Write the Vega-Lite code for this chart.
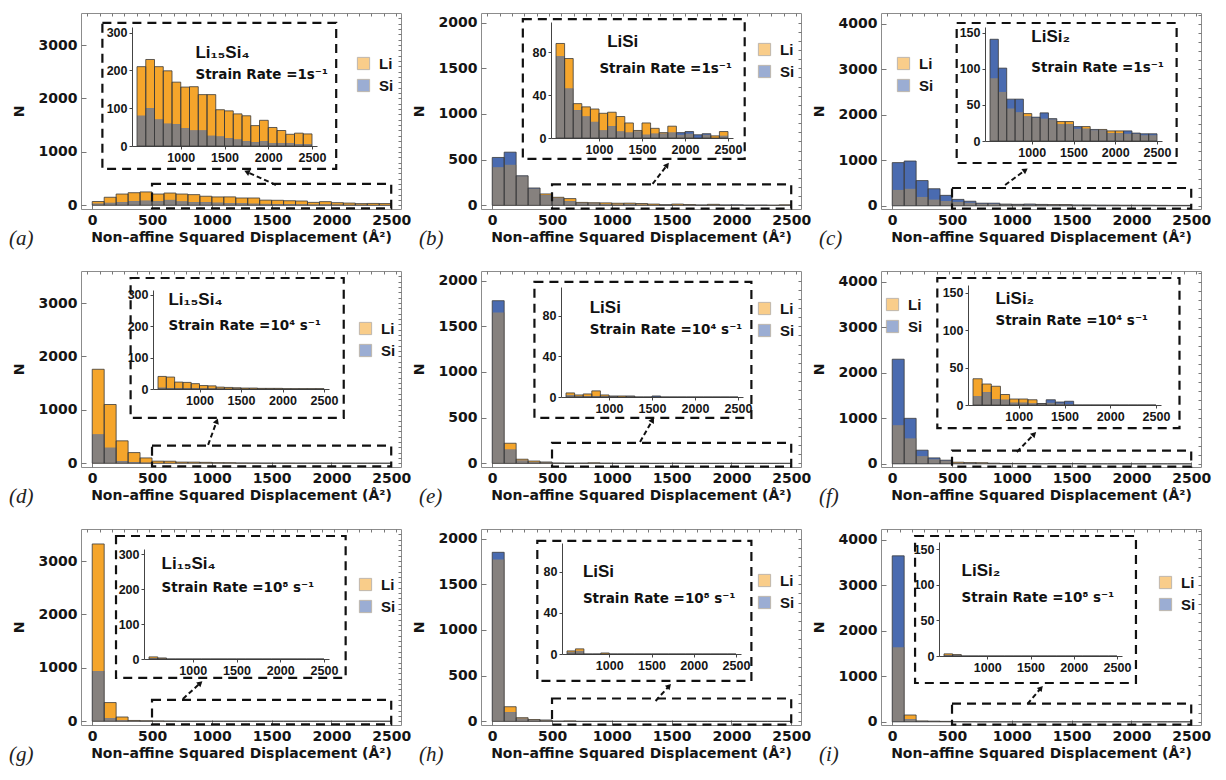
{
  "$schema": "https://vega.github.io/schema/vega-lite/v6.json",
  "background": "white",
  "padding": {"left": 8, "top": 12, "right": 4, "bottom": 4},
  "datasets": {
    "hist": [
      {"p":"a","b0":0,"b1":100,"li":70,"si":30},{"p":"a","b0":100,"b1":200,"li":150,"si":45},{"p":"a","b0":200,"b1":300,"li":210,"si":60},{"p":"a","b0":300,"b1":400,"li":235,"si":75},{"p":"a","b0":400,"b1":500,"li":250,"si":85},
      {"p":"a","b0":500,"b1":600,"li":210,"si":80},{"p":"a","b0":600,"b1":700,"li":229,"si":100},{"p":"a","b0":700,"b1":800,"li":210,"si":70},{"p":"a","b0":800,"b1":900,"li":199,"si":59},{"p":"a","b0":900,"b1":1000,"li":169,"si":58},
      {"p":"a","b0":1000,"b1":1100,"li":156,"si":47},{"p":"a","b0":1100,"b1":1200,"li":157,"si":41},{"p":"a","b0":1200,"b1":1300,"li":136,"si":41},{"p":"a","b0":1300,"b1":1400,"li":136,"si":27},{"p":"a","b0":1400,"b1":1500,"li":96,"si":25},
      {"p":"a","b0":1500,"b1":1600,"li":93,"si":21},{"p":"a","b0":1600,"b1":1700,"li":85,"si":17},{"p":"a","b0":1700,"b1":1800,"li":80,"si":13},{"p":"a","b0":1800,"b1":1900,"li":54,"si":10},{"p":"a","b0":1900,"b1":2000,"li":68,"si":13},
      {"p":"a","b0":2000,"b1":2100,"li":49,"si":8},{"p":"a","b0":2100,"b1":2200,"li":41,"si":7},{"p":"a","b0":2200,"b1":2300,"li":31,"si":7},{"p":"a","b0":2300,"b1":2400,"li":34,"si":5},{"p":"a","b0":2400,"b1":2500,"li":32,"si":5},

      {"p":"b","b0":0,"b1":100,"li":418,"si":524},{"p":"b","b0":100,"b1":200,"li":444,"si":582},{"p":"b","b0":200,"b1":300,"li":320,"si":324},{"p":"b","b0":300,"b1":400,"li":185,"si":190},{"p":"b","b0":400,"b1":500,"li":125,"si":110},
      {"p":"b","b0":500,"b1":600,"li":88,"si":76},{"p":"b","b0":600,"b1":700,"li":74,"si":46},{"p":"b","b0":700,"b1":800,"li":32,"si":26},{"p":"b","b0":800,"b1":900,"li":29,"si":20},{"p":"b","b0":900,"b1":1000,"li":27,"si":15},
      {"p":"b","b0":1000,"b1":1100,"li":23,"si":7},{"p":"b","b0":1100,"b1":1200,"li":24,"si":11},{"p":"b","b0":1200,"b1":1300,"li":20,"si":6},{"p":"b","b0":1300,"b1":1400,"li":14,"si":5},{"p":"b","b0":1400,"b1":1500,"li":7,"si":6},
      {"p":"b","b0":1500,"b1":1600,"li":14,"si":3},{"p":"b","b0":1600,"b1":1700,"li":9,"si":4},{"p":"b","b0":1700,"b1":1800,"li":5,"si":4},{"p":"b","b0":1800,"b1":1900,"li":11,"si":5},{"p":"b","b0":1900,"b1":2000,"li":3,"si":5},
      {"p":"b","b0":2000,"b1":2100,"li":4,"si":6},{"p":"b","b0":2100,"b1":2200,"li":0,"si":3},{"p":"b","b0":2200,"b1":2300,"li":3,"si":4},{"p":"b","b0":2300,"b1":2400,"li":2,"si":0},{"p":"b","b0":2400,"b1":2500,"li":6,"si":2},

      {"p":"c","b0":0,"b1":100,"li":350,"si":950},{"p":"c","b0":100,"b1":200,"li":375,"si":985},{"p":"c","b0":200,"b1":300,"li":195,"si":555},{"p":"c","b0":300,"b1":400,"li":137,"si":375},{"p":"c","b0":400,"b1":500,"li":108,"si":230},
      {"p":"c","b0":500,"b1":600,"li":87,"si":141},{"p":"c","b0":600,"b1":700,"li":68,"si":101},{"p":"c","b0":700,"b1":800,"li":45,"si":58},{"p":"c","b0":800,"b1":900,"li":40,"si":58},{"p":"c","b0":900,"b1":1000,"li":38,"si":34},
      {"p":"c","b0":1000,"b1":1100,"li":32,"si":33},{"p":"c","b0":1100,"b1":1200,"li":31,"si":39},{"p":"c","b0":1200,"b1":1300,"li":30,"si":31},{"p":"c","b0":1300,"b1":1400,"li":27,"si":23},{"p":"c","b0":1400,"b1":1500,"li":27,"si":23},
      {"p":"c","b0":1500,"b1":1600,"li":17,"si":20},{"p":"c","b0":1600,"b1":1700,"li":20,"si":17},{"p":"c","b0":1700,"b1":1800,"li":15,"si":16},{"p":"c","b0":1800,"b1":1900,"li":16,"si":15},{"p":"c","b0":1900,"b1":2000,"li":14,"si":11},
      {"p":"c","b0":2000,"b1":2100,"li":14,"si":11},{"p":"c","b0":2100,"b1":2200,"li":10,"si":14},{"p":"c","b0":2200,"b1":2300,"li":10,"si":11},{"p":"c","b0":2300,"b1":2400,"li":8,"si":10},{"p":"c","b0":2400,"b1":2500,"li":8,"si":10},

      {"p":"d","b0":0,"b1":100,"li":1760,"si":540},{"p":"d","b0":100,"b1":200,"li":1100,"si":290},{"p":"d","b0":200,"b1":300,"li":420,"si":40},{"p":"d","b0":300,"b1":400,"li":200,"si":20},{"p":"d","b0":400,"b1":500,"li":100,"si":10},
      {"p":"d","b0":500,"b1":600,"li":40,"si":4},{"p":"d","b0":600,"b1":700,"li":38,"si":3},{"p":"d","b0":700,"b1":800,"li":22,"si":3},{"p":"d","b0":800,"b1":900,"li":21,"si":2},{"p":"d","b0":900,"b1":1000,"li":17,"si":2},
      {"p":"d","b0":1000,"b1":1100,"li":11,"si":1},{"p":"d","b0":1100,"b1":1200,"li":10,"si":1},{"p":"d","b0":1200,"b1":1300,"li":6,"si":1},{"p":"d","b0":1300,"b1":1400,"li":5,"si":0},{"p":"d","b0":1400,"b1":1500,"li":4,"si":1},
      {"p":"d","b0":1500,"b1":1600,"li":3,"si":0},{"p":"d","b0":1600,"b1":1700,"li":3,"si":0},{"p":"d","b0":1700,"b1":1800,"li":2,"si":0},{"p":"d","b0":1800,"b1":1900,"li":2,"si":0},{"p":"d","b0":1900,"b1":2000,"li":2,"si":0},
      {"p":"d","b0":2000,"b1":2100,"li":1,"si":0},{"p":"d","b0":2100,"b1":2200,"li":1,"si":0},{"p":"d","b0":2200,"b1":2300,"li":1,"si":0},{"p":"d","b0":2300,"b1":2400,"li":1,"si":0},{"p":"d","b0":2400,"b1":2500,"li":1,"si":0},

      {"p":"e","b0":0,"b1":100,"li":1650,"si":1780},{"p":"e","b0":100,"b1":200,"li":220,"si":150},{"p":"e","b0":200,"b1":300,"li":45,"si":30},{"p":"e","b0":300,"b1":400,"li":25,"si":15},{"p":"e","b0":400,"b1":500,"li":15,"si":10},
      {"p":"e","b0":500,"b1":600,"li":4,"si":2},{"p":"e","b0":600,"b1":700,"li":2,"si":1},{"p":"e","b0":700,"b1":800,"li":3,"si":1},{"p":"e","b0":800,"b1":900,"li":6,"si":1},{"p":"e","b0":900,"b1":1000,"li":2,"si":1},
      {"p":"e","b0":1000,"b1":1100,"li":1,"si":1},{"p":"e","b0":1100,"b1":1200,"li":1,"si":0},{"p":"e","b0":1200,"b1":1300,"li":1,"si":1},{"p":"e","b0":1300,"b1":1400,"li":0,"si":0},{"p":"e","b0":1400,"b1":1500,"li":0,"si":0},
      {"p":"e","b0":1500,"b1":1600,"li":0,"si":1},{"p":"e","b0":1600,"b1":1700,"li":0,"si":0},{"p":"e","b0":1700,"b1":1800,"li":0,"si":0},{"p":"e","b0":1800,"b1":1900,"li":0,"si":0},{"p":"e","b0":1900,"b1":2000,"li":0,"si":0},
      {"p":"e","b0":2000,"b1":2100,"li":0,"si":0},{"p":"e","b0":2100,"b1":2200,"li":0,"si":0},{"p":"e","b0":2200,"b1":2300,"li":0,"si":0},{"p":"e","b0":2300,"b1":2400,"li":0,"si":0},{"p":"e","b0":2400,"b1":2500,"li":0,"si":0},

      {"p":"f","b0":0,"b1":100,"li":850,"si":2300},{"p":"f","b0":100,"b1":200,"li":560,"si":1000},{"p":"f","b0":200,"b1":300,"li":170,"si":300},{"p":"f","b0":300,"b1":400,"li":100,"si":130},{"p":"f","b0":400,"b1":500,"li":70,"si":80},
      {"p":"f","b0":500,"b1":600,"li":35,"si":12},{"p":"f","b0":600,"b1":700,"li":28,"si":17},{"p":"f","b0":700,"b1":800,"li":25,"si":8},{"p":"f","b0":800,"b1":900,"li":14,"si":7},{"p":"f","b0":900,"b1":1000,"li":8,"si":3},
      {"p":"f","b0":1000,"b1":1100,"li":8,"si":3},{"p":"f","b0":1100,"b1":1200,"li":7,"si":2},{"p":"f","b0":1200,"b1":1300,"li":2,"si":2},{"p":"f","b0":1300,"b1":1400,"li":3,"si":7},{"p":"f","b0":1400,"b1":1500,"li":2,"si":4},
      {"p":"f","b0":1500,"b1":1600,"li":1,"si":5},{"p":"f","b0":1600,"b1":1700,"li":0,"si":0},{"p":"f","b0":1700,"b1":1800,"li":0,"si":0},{"p":"f","b0":1800,"b1":1900,"li":0,"si":0},{"p":"f","b0":1900,"b1":2000,"li":0,"si":0},
      {"p":"f","b0":2000,"b1":2100,"li":0,"si":0},{"p":"f","b0":2100,"b1":2200,"li":0,"si":0},{"p":"f","b0":2200,"b1":2300,"li":0,"si":0},{"p":"f","b0":2300,"b1":2400,"li":0,"si":0},{"p":"f","b0":2400,"b1":2500,"li":0,"si":0},

      {"p":"g","b0":0,"b1":100,"li":3320,"si":940},{"p":"g","b0":100,"b1":200,"li":350,"si":60},{"p":"g","b0":200,"b1":300,"li":80,"si":15},{"p":"g","b0":300,"b1":400,"li":15,"si":5},{"p":"g","b0":400,"b1":500,"li":10,"si":3},
      {"p":"g","b0":500,"b1":600,"li":6,"si":2},{"p":"g","b0":600,"b1":700,"li":3,"si":1},{"p":"g","b0":700,"b1":800,"li":0,"si":0},{"p":"g","b0":800,"b1":900,"li":0,"si":0},{"p":"g","b0":900,"b1":1000,"li":0,"si":0},
      {"p":"g","b0":1000,"b1":1100,"li":0,"si":0},{"p":"g","b0":1100,"b1":1200,"li":0,"si":0},{"p":"g","b0":1200,"b1":1300,"li":0,"si":0},{"p":"g","b0":1300,"b1":1400,"li":0,"si":0},{"p":"g","b0":1400,"b1":1500,"li":0,"si":0},
      {"p":"g","b0":1500,"b1":1600,"li":0,"si":0},{"p":"g","b0":1600,"b1":1700,"li":0,"si":0},{"p":"g","b0":1700,"b1":1800,"li":0,"si":0},{"p":"g","b0":1800,"b1":1900,"li":0,"si":0},{"p":"g","b0":1900,"b1":2000,"li":0,"si":0},
      {"p":"g","b0":2000,"b1":2100,"li":0,"si":0},{"p":"g","b0":2100,"b1":2200,"li":0,"si":0},{"p":"g","b0":2200,"b1":2300,"li":0,"si":0},{"p":"g","b0":2300,"b1":2400,"li":0,"si":0},{"p":"g","b0":2400,"b1":2500,"li":0,"si":0},

      {"p":"h","b0":0,"b1":100,"li":1770,"si":1850},{"p":"h","b0":100,"b1":200,"li":160,"si":100},{"p":"h","b0":200,"b1":300,"li":40,"si":30},{"p":"h","b0":300,"b1":400,"li":20,"si":15},{"p":"h","b0":400,"b1":500,"li":15,"si":10},
      {"p":"h","b0":500,"b1":600,"li":3,"si":2},{"p":"h","b0":600,"b1":700,"li":5,"si":3},{"p":"h","b0":700,"b1":800,"li":0,"si":0},{"p":"h","b0":800,"b1":900,"li":0,"si":0},{"p":"h","b0":900,"b1":1000,"li":1,"si":0},
      {"p":"h","b0":1000,"b1":1100,"li":0,"si":0},{"p":"h","b0":1100,"b1":1200,"li":0,"si":0},{"p":"h","b0":1200,"b1":1300,"li":0,"si":0},{"p":"h","b0":1300,"b1":1400,"li":0,"si":0},{"p":"h","b0":1400,"b1":1500,"li":0,"si":0},
      {"p":"h","b0":1500,"b1":1600,"li":0,"si":0},{"p":"h","b0":1600,"b1":1700,"li":0,"si":0},{"p":"h","b0":1700,"b1":1800,"li":0,"si":0},{"p":"h","b0":1800,"b1":1900,"li":0,"si":0},{"p":"h","b0":1900,"b1":2000,"li":0,"si":0},
      {"p":"h","b0":2000,"b1":2100,"li":0,"si":0},{"p":"h","b0":2100,"b1":2200,"li":0,"si":0},{"p":"h","b0":2200,"b1":2300,"li":0,"si":0},{"p":"h","b0":2300,"b1":2400,"li":0,"si":0},{"p":"h","b0":2400,"b1":2500,"li":0,"si":0},

      {"p":"i","b0":0,"b1":100,"li":1640,"si":3650},{"p":"i","b0":100,"b1":200,"li":150,"si":60},{"p":"i","b0":200,"b1":300,"li":20,"si":15},{"p":"i","b0":300,"b1":400,"li":15,"si":10},{"p":"i","b0":400,"b1":500,"li":10,"si":5},
      {"p":"i","b0":500,"b1":600,"li":3,"si":1},{"p":"i","b0":600,"b1":700,"li":2,"si":1},{"p":"i","b0":700,"b1":800,"li":0,"si":0},{"p":"i","b0":800,"b1":900,"li":0,"si":0},{"p":"i","b0":900,"b1":1000,"li":0,"si":0},
      {"p":"i","b0":1000,"b1":1100,"li":0,"si":0},{"p":"i","b0":1100,"b1":1200,"li":0,"si":0},{"p":"i","b0":1200,"b1":1300,"li":0,"si":0},{"p":"i","b0":1300,"b1":1400,"li":0,"si":0},{"p":"i","b0":1400,"b1":1500,"li":0,"si":0},
      {"p":"i","b0":1500,"b1":1600,"li":0,"si":0},{"p":"i","b0":1600,"b1":1700,"li":0,"si":0},{"p":"i","b0":1700,"b1":1800,"li":0,"si":0},{"p":"i","b0":1800,"b1":1900,"li":0,"si":0},{"p":"i","b0":1900,"b1":2000,"li":0,"si":0},
      {"p":"i","b0":2000,"b1":2100,"li":0,"si":0},{"p":"i","b0":2100,"b1":2200,"li":0,"si":0},{"p":"i","b0":2200,"b1":2300,"li":0,"si":0},{"p":"i","b0":2300,"b1":2400,"li":0,"si":0},{"p":"i","b0":2400,"b1":2500,"li":0,"si":0}
    ]
  },
  "columns": 3,
  "spacing": {"row": 62, "column": 80},
  "bounds": "flush",
  "resolve": {"scale": {"color": "independent"}, "legend": {"color": "independent"}},
  "concat": [
    {
      "title": {"text": "(a)", "dx": -72},
      "width": 320, "height": 196,
      "data": {"name": "hist"},
      "transform": [{"filter": "datum.p == 'a'"}],
      "resolve": {"scale": {"x": "independent", "y": "independent"}},
      "layer": [
        {"layer": [
          {"mark": {"type": "bar"}, "encoding": {
            "x": {"field": "b0", "type": "quantitative", "scale": {"domain": [-52, 2540], "nice": false, "zero": false}, "axis": {"values": [0, 500, 1000, 1500, 2000, 2500], "title": "Non–affine Squared Displacement (Å²)"}},
            "x2": {"field": "b1"},
            "y": {"field": "li", "type": "quantitative", "stack": null, "scale": {"domain": [-70, 3600], "nice": false, "zero": false}, "axis": {"values": [0, 500, 1000, 1500, 2000, 2500, 3000, 3500], "title": "N"}},
            "y2": {"datum": 0},
            "color": {"datum": "Li", "scale": {"domain": ["Li", "Si"], "range": ["#f5a52b", "#4a6bb0"]}, "legend": {"legendX": 275, "legendY": 43}}}},
          {"mark": {"type": "bar"}, "encoding": {"x": {"field": "b0", "type": "quantitative"}, "x2": {"field": "b1"}, "y": {"field": "si", "type": "quantitative", "stack": null}, "y2": {"datum": 0}, "color": {"datum": "Si"}}},
          {"transform": [{"fold": ["li", "si"]}], "mark": {"type": "bar", "color": "#86817e"}, "encoding": {"x": {"field": "b0", "type": "quantitative"}, "x2": {"field": "b1"}, "y": {"aggregate": "min", "field": "value", "type": "quantitative"}}},
          {"transform": [{"fold": ["li", "si"]}], "mark": {"type": "bar", "fillOpacity": 0, "stroke": "#3a3a3a", "strokeWidth": 0.8}, "encoding": {"x": {"field": "b0", "type": "quantitative"}, "x2": {"field": "b1"}, "y": {"aggregate": "max", "field": "value", "type": "quantitative"}}},
          {"data": {"values": [{}]}, "mark": {"type": "rect", "fillOpacity": 0, "stroke": "#111", "strokeWidth": 2.2, "strokeDash": [9, 6]}, "encoding": {"x": {"datum": 500}, "x2": {"datum": 2500}, "y": {"datum": -60}, "y2": {"datum": 400}}},
          {"data": {"values": [{}]}, "mark": {"type": "rect", "fillOpacity": 0, "stroke": "#111", "strokeWidth": 2.2, "strokeDash": [9, 6]}, "encoding": {"x": {"datum": 85}, "x2": {"datum": 2040}, "y": {"datum": 680}, "y2": {"datum": 3415}}},
          {"data": {"values": [{}]}, "mark": {"type": "rule", "color": "#111", "strokeWidth": 2, "strokeDash": [5, 3]}, "encoding": {"x": {"datum": 1536}, "y": {"datum": 380}, "x2": {"datum": 1293}, "y2": {"datum": 624}}},
          {"data": {"values": [{}]}, "mark": {"type": "point", "shape": "triangle-up", "filled": true, "color": "#111", "opacity": 1, "size": 40, "angle": 293}, "encoding": {"x": {"datum": 1293}, "y": {"datum": 624}}},
          {"data": {"values": [{}]}, "mark": {"type": "text", "align": "left", "baseline": "middle", "fontSize": 17, "fontWeight": "bold"}, "encoding": {"x": {"datum": 863}, "y": {"datum": 2851}, "text": {"value": "Li₁₅Si₄"}}},
          {"data": {"values": [{}]}, "mark": {"type": "text", "align": "left", "baseline": "middle", "font": "DejaVu Sans", "fontSize": 13.5, "fontWeight": "bold"}, "encoding": {"x": {"datum": 863}, "y": {"datum": 2439}, "text": {"value": "Strain Rate =1s⁻¹"}}}
        ]},
        {"transform": [{"filter": "datum.b0 >= 500"}], "layer": [
          {"mark": {"type": "bar", "color": "#f5a52b"}, "encoding": {
            "x": {"field": "b0", "type": "quantitative", "scale": {"domain": [500, 2500], "range": [51, 236], "nice": false, "zero": false}, "axis": {"orient": "bottom", "offset": -63, "values": [1000, 1500, 2000, 2500], "title": null, "domain": true, "domainColor": "#444", "tickSize": 3, "tickColor": "#444", "labelPadding": 2, "labelFont": "Liberation Sans", "labelFontSize": 12.5}},
            "x2": {"field": "b1"},
            "y": {"field": "li", "type": "quantitative", "scale": {"domain": [0, 315], "range": [133, 14], "nice": false, "zero": false}, "axis": {"orient": "left", "offset": -51, "values": [0, 50, 100, 150, 200, 250, 300], "title": null, "domain": true, "domainColor": "#444", "tickSize": 3, "tickColor": "#444", "labelPadding": 2, "labelFont": "Liberation Sans", "labelFontSize": 12.5}},
            "y2": {"datum": 0}}},
          {"mark": {"type": "bar", "color": "#4a6bb0"}, "encoding": {"x": {"field": "b0", "type": "quantitative"}, "x2": {"field": "b1"}, "y": {"field": "si", "type": "quantitative"}, "y2": {"datum": 0}}},
          {"transform": [{"fold": ["li", "si"]}], "mark": {"type": "bar", "color": "#86817e"}, "encoding": {"x": {"field": "b0", "type": "quantitative"}, "x2": {"field": "b1"}, "y": {"aggregate": "min", "field": "value", "type": "quantitative"}}},
          {"transform": [{"fold": ["li", "si"]}], "mark": {"type": "bar", "fillOpacity": 0, "stroke": "#3a3a3a", "strokeWidth": 0.8}, "encoding": {"x": {"field": "b0", "type": "quantitative"}, "x2": {"field": "b1"}, "y": {"aggregate": "max", "field": "value", "type": "quantitative"}}}
        ]},
        {"data": {"values": [{}]}, "mark": {"type": "point", "opacity": 0}, "encoding": {
          "x": {"datum": 0, "type": "quantitative", "scale": {"domain": [-52, 2540], "nice": false, "zero": false}, "axis": {"orient": "top", "values": [0,100,200,300,400,500,600,700,800,900,1000,1100,1200,1300,1400,1500,1600,1700,1800,1900,2000,2100,2200,2300,2400,2500], "labels": false, "title": null, "tickSize": -3}},
          "y": {"datum": 0, "type": "quantitative", "scale": {"domain": [-70, 3600], "nice": false, "zero": false}, "axis": {"orient": "right", "values": [0,100,200,300,400,500,600,700,800,900,1000,1100,1200,1300,1400,1500,1600,1700,1800,1900,2000,2100,2200,2300,2400,2500,2600,2700,2800,2900,3000,3100,3200,3300,3400,3500], "labels": false, "title": null, "tickSize": -3}}}}
      ]
    },
    {
      "title": {"text": "(b)", "dx": -62},
      "width": 320, "height": 196,
      "data": {"name": "hist"},
      "transform": [{"filter": "datum.p == 'b'"}],
      "resolve": {"scale": {"x": "independent", "y": "independent"}},
      "layer": [
        {"layer": [
          {"mark": {"type": "bar"}, "encoding": {
            "x": {"field": "b0", "type": "quantitative", "scale": {"domain": [-52, 2540], "nice": false, "zero": false}, "axis": {"values": [0, 500, 1000, 1500, 2000, 2500], "title": "Non–affine Squared Displacement (Å²)"}},
            "x2": {"field": "b1"},
            "y": {"field": "li", "type": "quantitative", "stack": null, "scale": {"domain": [-40, 2105], "nice": false, "zero": false}, "axis": {"values": [0, 500, 1000, 1500, 2000], "title": "N"}},
            "y2": {"datum": 0},
            "color": {"datum": "Li", "scale": {"domain": ["Li", "Si"], "range": ["#f5a52b", "#4a6bb0"]}, "legend": {"legendX": 276, "legendY": 29}}}},
          {"mark": {"type": "bar"}, "encoding": {"x": {"field": "b0", "type": "quantitative"}, "x2": {"field": "b1"}, "y": {"field": "si", "type": "quantitative", "stack": null}, "y2": {"datum": 0}, "color": {"datum": "Si"}}},
          {"transform": [{"fold": ["li", "si"]}], "mark": {"type": "bar", "color": "#86817e"}, "encoding": {"x": {"field": "b0", "type": "quantitative"}, "x2": {"field": "b1"}, "y": {"aggregate": "min", "field": "value", "type": "quantitative"}}},
          {"transform": [{"fold": ["li", "si"]}], "mark": {"type": "bar", "fillOpacity": 0, "stroke": "#3a3a3a", "strokeWidth": 0.8}, "encoding": {"x": {"field": "b0", "type": "quantitative"}, "x2": {"field": "b1"}, "y": {"aggregate": "max", "field": "value", "type": "quantitative"}}},
          {"data": {"values": [{}]}, "mark": {"type": "rect", "fillOpacity": 0, "stroke": "#111", "strokeWidth": 2.2, "strokeDash": [9, 6]}, "encoding": {"x": {"datum": 500}, "x2": {"datum": 2500}, "y": {"datum": -35}, "y2": {"datum": 230}}},
          {"data": {"values": [{}]}, "mark": {"type": "rect", "fillOpacity": 0, "stroke": "#111", "strokeWidth": 2.2, "strokeDash": [9, 6]}, "encoding": {"x": {"datum": 256}, "x2": {"datum": 2111}, "y": {"datum": 508}, "y2": {"datum": 2039}}},
          {"data": {"values": [{}]}, "mark": {"type": "rule", "color": "#111", "strokeWidth": 2, "strokeDash": [5, 3]}, "encoding": {"x": {"datum": 1341}, "y": {"datum": 234}, "x2": {"datum": 1463}, "y2": {"datum": 442}}},
          {"data": {"values": [{}]}, "mark": {"type": "point", "shape": "triangle-up", "filled": true, "color": "#111", "opacity": 1, "size": 40, "angle": 38}, "encoding": {"x": {"datum": 1463}, "y": {"datum": 442}}},
          {"data": {"values": [{}]}, "mark": {"type": "text", "align": "left", "baseline": "middle", "fontSize": 17, "fontWeight": "bold"}, "encoding": {"x": {"datum": 961}, "y": {"datum": 1788}, "text": {"value": "LiSi"}}},
          {"data": {"values": [{}]}, "mark": {"type": "text", "align": "left", "baseline": "middle", "font": "DejaVu Sans", "fontSize": 13.5, "fontWeight": "bold"}, "encoding": {"x": {"datum": 896}, "y": {"datum": 1492}, "text": {"value": "Strain Rate =1s⁻¹"}}}
        ]},
        {"transform": [{"filter": "datum.b0 >= 500"}], "layer": [
          {"mark": {"type": "bar", "color": "#f5a52b"}, "encoding": {
            "x": {"field": "b0", "type": "quantitative", "scale": {"domain": [500, 2500], "range": [70, 252], "nice": false, "zero": false}, "axis": {"orient": "bottom", "offset": -71, "values": [1000, 1500, 2000, 2500], "title": null, "domain": true, "domainColor": "#444", "tickSize": 3, "tickColor": "#444", "labelPadding": 2, "labelFont": "Liberation Sans", "labelFontSize": 12.5}},
            "x2": {"field": "b1"},
            "y": {"field": "li", "type": "quantitative", "scale": {"domain": [0, 108], "range": [125, 9], "nice": false, "zero": false}, "axis": {"orient": "left", "offset": -70, "values": [0, 20, 40, 60, 80, 100], "title": null, "domain": true, "domainColor": "#444", "tickSize": 3, "tickColor": "#444", "labelPadding": 2, "labelFont": "Liberation Sans", "labelFontSize": 12.5}},
            "y2": {"datum": 0}}},
          {"mark": {"type": "bar", "color": "#4a6bb0"}, "encoding": {"x": {"field": "b0", "type": "quantitative"}, "x2": {"field": "b1"}, "y": {"field": "si", "type": "quantitative"}, "y2": {"datum": 0}}},
          {"transform": [{"fold": ["li", "si"]}], "mark": {"type": "bar", "color": "#86817e"}, "encoding": {"x": {"field": "b0", "type": "quantitative"}, "x2": {"field": "b1"}, "y": {"aggregate": "min", "field": "value", "type": "quantitative"}}},
          {"transform": [{"fold": ["li", "si"]}], "mark": {"type": "bar", "fillOpacity": 0, "stroke": "#3a3a3a", "strokeWidth": 0.8}, "encoding": {"x": {"field": "b0", "type": "quantitative"}, "x2": {"field": "b1"}, "y": {"aggregate": "max", "field": "value", "type": "quantitative"}}}
        ]},
        {"data": {"values": [{}]}, "mark": {"type": "point", "opacity": 0}, "encoding": {
          "x": {"datum": 0, "type": "quantitative", "scale": {"domain": [-52, 2540], "nice": false, "zero": false}, "axis": {"orient": "top", "values": [0,100,200,300,400,500,600,700,800,900,1000,1100,1200,1300,1400,1500,1600,1700,1800,1900,2000,2100,2200,2300,2400,2500], "labels": false, "title": null, "tickSize": -3}},
          "y": {"datum": 0, "type": "quantitative", "scale": {"domain": [-40, 2105], "nice": false, "zero": false}, "axis": {"orient": "right", "values": [0,100,200,300,400,500,600,700,800,900,1000,1100,1200,1300,1400,1500,1600,1700,1800,1900,2000], "labels": false, "title": null, "tickSize": -3}}}}
      ]
    },
    {
      "title": {"text": "(c)", "dx": -62},
      "width": 320, "height": 196,
      "data": {"name": "hist"},
      "transform": [{"filter": "datum.p == 'c'"}],
      "resolve": {"scale": {"x": "independent", "y": "independent"}},
      "layer": [
        {"layer": [
          {"mark": {"type": "bar"}, "encoding": {
            "x": {"field": "b0", "type": "quantitative", "scale": {"domain": [-52, 2540], "nice": false, "zero": false}, "axis": {"values": [0, 500, 1000, 1500, 2000, 2500], "title": "Non–affine Squared Displacement (Å²)"}},
            "x2": {"field": "b1"},
            "y": {"field": "li", "type": "quantitative", "stack": null, "scale": {"domain": [-70, 4240], "nice": false, "zero": false}, "axis": {"values": [0, 1000, 2000, 3000, 4000], "title": "N"}},
            "y2": {"datum": 0},
            "color": {"datum": "Li", "scale": {"domain": ["Li", "Si"], "range": ["#f5a52b", "#4a6bb0"]}, "legend": {"legendX": 15, "legendY": 43}}}},
          {"mark": {"type": "bar"}, "encoding": {"x": {"field": "b0", "type": "quantitative"}, "x2": {"field": "b1"}, "y": {"field": "si", "type": "quantitative", "stack": null}, "y2": {"datum": 0}, "color": {"datum": "Si"}}},
          {"transform": [{"fold": ["li", "si"]}], "mark": {"type": "bar", "color": "#86817e"}, "encoding": {"x": {"field": "b0", "type": "quantitative"}, "x2": {"field": "b1"}, "y": {"aggregate": "min", "field": "value", "type": "quantitative"}}},
          {"transform": [{"fold": ["li", "si"]}], "mark": {"type": "bar", "fillOpacity": 0, "stroke": "#3a3a3a", "strokeWidth": 0.8}, "encoding": {"x": {"field": "b0", "type": "quantitative"}, "x2": {"field": "b1"}, "y": {"aggregate": "max", "field": "value", "type": "quantitative"}}},
          {"data": {"values": [{}]}, "mark": {"type": "rect", "fillOpacity": 0, "stroke": "#111", "strokeWidth": 2.2, "strokeDash": [9, 6]}, "encoding": {"x": {"datum": 500}, "x2": {"datum": 2500}, "y": {"datum": -60}, "y2": {"datum": 392}}},
          {"data": {"values": [{}]}, "mark": {"type": "rect", "fillOpacity": 0, "stroke": "#111", "strokeWidth": 2.2, "strokeDash": [9, 6]}, "encoding": {"x": {"datum": 539}, "x2": {"datum": 2378}, "y": {"datum": 941}, "y2": {"datum": 4020}}},
          {"data": {"values": [{}]}, "mark": {"type": "rule", "color": "#111", "strokeWidth": 2, "strokeDash": [5, 3]}, "encoding": {"x": {"datum": 944}, "y": {"datum": 458}, "x2": {"datum": 1114}, "y2": {"datum": 787}}},
          {"data": {"values": [{}]}, "mark": {"type": "point", "shape": "triangle-up", "filled": true, "color": "#111", "opacity": 1, "size": 40, "angle": 54}, "encoding": {"x": {"datum": 1114}, "y": {"datum": 787}}},
          {"data": {"values": [{}]}, "mark": {"type": "text", "align": "left", "baseline": "middle", "fontSize": 17, "fontWeight": "bold"}, "encoding": {"x": {"datum": 1163}, "y": {"datum": 3712}, "text": {"value": "LiSi₂"}}},
          {"data": {"values": [{}]}, "mark": {"type": "text", "align": "left", "baseline": "middle", "font": "DejaVu Sans", "fontSize": 13.5, "fontWeight": "bold"}, "encoding": {"x": {"datum": 1163}, "y": {"datum": 3031}, "text": {"value": "Strain Rate =1s⁻¹"}}}
        ]},
        {"transform": [{"filter": "datum.b0 >= 500"}], "layer": [
          {"mark": {"type": "bar", "color": "#f5a52b"}, "encoding": {
            "x": {"field": "b0", "type": "quantitative", "scale": {"domain": [500, 2500], "range": [104, 281], "nice": false, "zero": false}, "axis": {"orient": "bottom", "offset": -68, "values": [1000, 1500, 2000, 2500], "title": null, "domain": true, "domainColor": "#444", "tickSize": 3, "tickColor": "#444", "labelPadding": 2, "labelFont": "Liberation Sans", "labelFontSize": 12.5}},
            "x2": {"field": "b1"},
            "y": {"field": "li", "type": "quantitative", "scale": {"domain": [0, 158], "range": [128, 14], "nice": false, "zero": false}, "axis": {"orient": "left", "offset": -104, "values": [0, 50, 100, 150], "title": null, "domain": true, "domainColor": "#444", "tickSize": 3, "tickColor": "#444", "labelPadding": 2, "labelFont": "Liberation Sans", "labelFontSize": 12.5}},
            "y2": {"datum": 0}}},
          {"mark": {"type": "bar", "color": "#4a6bb0"}, "encoding": {"x": {"field": "b0", "type": "quantitative"}, "x2": {"field": "b1"}, "y": {"field": "si", "type": "quantitative"}, "y2": {"datum": 0}}},
          {"transform": [{"fold": ["li", "si"]}], "mark": {"type": "bar", "color": "#86817e"}, "encoding": {"x": {"field": "b0", "type": "quantitative"}, "x2": {"field": "b1"}, "y": {"aggregate": "min", "field": "value", "type": "quantitative"}}},
          {"transform": [{"fold": ["li", "si"]}], "mark": {"type": "bar", "fillOpacity": 0, "stroke": "#3a3a3a", "strokeWidth": 0.8}, "encoding": {"x": {"field": "b0", "type": "quantitative"}, "x2": {"field": "b1"}, "y": {"aggregate": "max", "field": "value", "type": "quantitative"}}}
        ]},
        {"data": {"values": [{}]}, "mark": {"type": "point", "opacity": 0}, "encoding": {
          "x": {"datum": 0, "type": "quantitative", "scale": {"domain": [-52, 2540], "nice": false, "zero": false}, "axis": {"orient": "top", "values": [0,100,200,300,400,500,600,700,800,900,1000,1100,1200,1300,1400,1500,1600,1700,1800,1900,2000,2100,2200,2300,2400,2500], "labels": false, "title": null, "tickSize": -3}},
          "y": {"datum": 0, "type": "quantitative", "scale": {"domain": [-70, 4240], "nice": false, "zero": false}, "axis": {"orient": "right", "values": [0,200,400,600,800,1000,1200,1400,1600,1800,2000,2200,2400,2600,2800,3000,3200,3400,3600,3800,4000,4200], "labels": false, "title": null, "tickSize": -3}}}}
      ]
    },
    {
      "title": {"text": "(d)", "dx": -72},
      "width": 320, "height": 196,
      "data": {"name": "hist"},
      "transform": [{"filter": "datum.p == 'd'"}],
      "resolve": {"scale": {"x": "independent", "y": "independent"}},
      "layer": [
        {"layer": [
          {"mark": {"type": "bar"}, "encoding": {
            "x": {"field": "b0", "type": "quantitative", "scale": {"domain": [-52, 2540], "nice": false, "zero": false}, "axis": {"values": [0, 500, 1000, 1500, 2000, 2500], "title": "Non–affine Squared Displacement (Å²)"}},
            "x2": {"field": "b1"},
            "y": {"field": "li", "type": "quantitative", "stack": null, "scale": {"domain": [-70, 3600], "nice": false, "zero": false}, "axis": {"values": [0, 500, 1000, 1500, 2000, 2500, 3000, 3500], "title": "N"}},
            "y2": {"datum": 0},
            "color": {"datum": "Li", "scale": {"domain": ["Li", "Si"], "range": ["#f5a52b", "#4a6bb0"]}, "legend": {"legendX": 277, "legendY": 50}}}},
          {"mark": {"type": "bar"}, "encoding": {"x": {"field": "b0", "type": "quantitative"}, "x2": {"field": "b1"}, "y": {"field": "si", "type": "quantitative", "stack": null}, "y2": {"datum": 0}, "color": {"datum": "Si"}}},
          {"transform": [{"fold": ["li", "si"]}], "mark": {"type": "bar", "color": "#86817e"}, "encoding": {"x": {"field": "b0", "type": "quantitative"}, "x2": {"field": "b1"}, "y": {"aggregate": "min", "field": "value", "type": "quantitative"}}},
          {"transform": [{"fold": ["li", "si"]}], "mark": {"type": "bar", "fillOpacity": 0, "stroke": "#3a3a3a", "strokeWidth": 0.8}, "encoding": {"x": {"field": "b0", "type": "quantitative"}, "x2": {"field": "b1"}, "y": {"aggregate": "max", "field": "value", "type": "quantitative"}}},
          {"data": {"values": [{}]}, "mark": {"type": "rect", "fillOpacity": 0, "stroke": "#111", "strokeWidth": 2.2, "strokeDash": [9, 6]}, "encoding": {"x": {"datum": 500}, "x2": {"datum": 2500}, "y": {"datum": -60}, "y2": {"datum": 330}}},
          {"data": {"values": [{}]}, "mark": {"type": "rect", "fillOpacity": 0, "stroke": "#111", "strokeWidth": 2.2, "strokeDash": [9, 6]}, "encoding": {"x": {"datum": 321}, "x2": {"datum": 2103}, "y": {"datum": 848}, "y2": {"datum": 3469}}},
          {"data": {"values": [{}]}, "mark": {"type": "rule", "color": "#111", "strokeWidth": 2, "strokeDash": [5, 3]}, "encoding": {"x": {"datum": 969}, "y": {"datum": 343}, "x2": {"datum": 1042}, "y2": {"datum": 792}}},
          {"data": {"values": [{}]}, "mark": {"type": "point", "shape": "triangle-up", "filled": true, "color": "#111", "opacity": 1, "size": 40, "angle": 21}, "encoding": {"x": {"datum": 1042}, "y": {"datum": 792}}},
          {"data": {"values": [{}]}, "mark": {"type": "text", "align": "left", "baseline": "middle", "fontSize": 17, "fontWeight": "bold"}, "encoding": {"x": {"datum": 637}, "y": {"datum": 3057}, "text": {"value": "Li₁₅Si₄"}}},
          {"data": {"values": [{}]}, "mark": {"type": "text", "align": "left", "baseline": "middle", "font": "DejaVu Sans", "fontSize": 13.5, "fontWeight": "bold"}, "encoding": {"x": {"datum": 637}, "y": {"datum": 2570}, "text": {"value": "Strain Rate =10⁴ s⁻¹"}}}
        ]},
        {"transform": [{"filter": "datum.b0 >= 500"}], "layer": [
          {"mark": {"type": "bar", "color": "#f5a52b"}, "encoding": {
            "x": {"field": "b0", "type": "quantitative", "scale": {"domain": [500, 2500], "range": [72, 248], "nice": false, "zero": false}, "axis": {"orient": "bottom", "offset": -78, "values": [1000, 1500, 2000, 2500], "title": null, "domain": true, "domainColor": "#444", "tickSize": 3, "tickColor": "#444", "labelPadding": 2, "labelFont": "Liberation Sans", "labelFontSize": 12.5}},
            "x2": {"field": "b1"},
            "y": {"field": "li", "type": "quantitative", "scale": {"domain": [0, 315], "range": [118, 19], "nice": false, "zero": false}, "axis": {"orient": "left", "offset": -72, "values": [0, 50, 100, 150, 200, 250, 300], "title": null, "domain": true, "domainColor": "#444", "tickSize": 3, "tickColor": "#444", "labelPadding": 2, "labelFont": "Liberation Sans", "labelFontSize": 12.5}},
            "y2": {"datum": 0}}},
          {"mark": {"type": "bar", "color": "#4a6bb0"}, "encoding": {"x": {"field": "b0", "type": "quantitative"}, "x2": {"field": "b1"}, "y": {"field": "si", "type": "quantitative"}, "y2": {"datum": 0}}},
          {"transform": [{"fold": ["li", "si"]}], "mark": {"type": "bar", "color": "#86817e"}, "encoding": {"x": {"field": "b0", "type": "quantitative"}, "x2": {"field": "b1"}, "y": {"aggregate": "min", "field": "value", "type": "quantitative"}}},
          {"transform": [{"fold": ["li", "si"]}], "mark": {"type": "bar", "fillOpacity": 0, "stroke": "#3a3a3a", "strokeWidth": 0.8}, "encoding": {"x": {"field": "b0", "type": "quantitative"}, "x2": {"field": "b1"}, "y": {"aggregate": "max", "field": "value", "type": "quantitative"}}}
        ]},
        {"data": {"values": [{}]}, "mark": {"type": "point", "opacity": 0}, "encoding": {
          "x": {"datum": 0, "type": "quantitative", "scale": {"domain": [-52, 2540], "nice": false, "zero": false}, "axis": {"orient": "top", "values": [0,100,200,300,400,500,600,700,800,900,1000,1100,1200,1300,1400,1500,1600,1700,1800,1900,2000,2100,2200,2300,2400,2500], "labels": false, "title": null, "tickSize": -3}},
          "y": {"datum": 0, "type": "quantitative", "scale": {"domain": [-70, 3600], "nice": false, "zero": false}, "axis": {"orient": "right", "values": [0,100,200,300,400,500,600,700,800,900,1000,1100,1200,1300,1400,1500,1600,1700,1800,1900,2000,2100,2200,2300,2400,2500,2600,2700,2800,2900,3000,3100,3200,3300,3400,3500], "labels": false, "title": null, "tickSize": -3}}}}
      ]
    },
    {
      "title": {"text": "(e)", "dx": -62},
      "width": 320, "height": 196,
      "data": {"name": "hist"},
      "transform": [{"filter": "datum.p == 'e'"}],
      "resolve": {"scale": {"x": "independent", "y": "independent"}},
      "layer": [
        {"layer": [
          {"mark": {"type": "bar"}, "encoding": {
            "x": {"field": "b0", "type": "quantitative", "scale": {"domain": [-52, 2540], "nice": false, "zero": false}, "axis": {"values": [0, 500, 1000, 1500, 2000, 2500], "title": "Non–affine Squared Displacement (Å²)"}},
            "x2": {"field": "b1"},
            "y": {"field": "li", "type": "quantitative", "stack": null, "scale": {"domain": [-40, 2105], "nice": false, "zero": false}, "axis": {"values": [0, 500, 1000, 1500, 2000], "title": "N"}},
            "y2": {"datum": 0},
            "color": {"datum": "Li", "scale": {"domain": ["Li", "Si"], "range": ["#f5a52b", "#4a6bb0"]}, "legend": {"legendX": 276, "legendY": 30}}}},
          {"mark": {"type": "bar"}, "encoding": {"x": {"field": "b0", "type": "quantitative"}, "x2": {"field": "b1"}, "y": {"field": "si", "type": "quantitative", "stack": null}, "y2": {"datum": 0}, "color": {"datum": "Si"}}},
          {"transform": [{"fold": ["li", "si"]}], "mark": {"type": "bar", "color": "#86817e"}, "encoding": {"x": {"field": "b0", "type": "quantitative"}, "x2": {"field": "b1"}, "y": {"aggregate": "min", "field": "value", "type": "quantitative"}}},
          {"transform": [{"fold": ["li", "si"]}], "mark": {"type": "bar", "fillOpacity": 0, "stroke": "#3a3a3a", "strokeWidth": 0.8}, "encoding": {"x": {"field": "b0", "type": "quantitative"}, "x2": {"field": "b1"}, "y": {"aggregate": "max", "field": "value", "type": "quantitative"}}},
          {"data": {"values": [{}]}, "mark": {"type": "rect", "fillOpacity": 0, "stroke": "#111", "strokeWidth": 2.2, "strokeDash": [9, 6]}, "encoding": {"x": {"datum": 500}, "x2": {"datum": 2500}, "y": {"datum": -35}, "y2": {"datum": 223}}},
          {"data": {"values": [{}]}, "mark": {"type": "rect", "fillOpacity": 0, "stroke": "#111", "strokeWidth": 2.2, "strokeDash": [9, 6]}, "encoding": {"x": {"datum": 353}, "x2": {"datum": 2167}, "y": {"datum": 497}, "y2": {"datum": 1985}}},
          {"data": {"values": [{}]}, "mark": {"type": "rule", "color": "#111", "strokeWidth": 2, "strokeDash": [5, 3]}, "encoding": {"x": {"datum": 1236}, "y": {"datum": 234}, "x2": {"datum": 1341}, "y2": {"datum": 475}}},
          {"data": {"values": [{}]}, "mark": {"type": "point", "shape": "triangle-up", "filled": true, "color": "#111", "opacity": 1, "size": 40, "angle": 31}, "encoding": {"x": {"datum": 1341}, "y": {"datum": 475}}},
          {"data": {"values": [{}]}, "mark": {"type": "text", "align": "left", "baseline": "middle", "fontSize": 17, "fontWeight": "bold"}, "encoding": {"x": {"datum": 815}, "y": {"datum": 1700}, "text": {"value": "LiSi"}}},
          {"data": {"values": [{}]}, "mark": {"type": "text", "align": "left", "baseline": "middle", "font": "DejaVu Sans", "fontSize": 13.5, "fontWeight": "bold"}, "encoding": {"x": {"datum": 815}, "y": {"datum": 1460}, "text": {"value": "Strain Rate =10⁴ s⁻¹"}}}
        ]},
        {"transform": [{"filter": "datum.b0 >= 500"}], "layer": [
          {"mark": {"type": "bar", "color": "#f5a52b"}, "encoding": {
            "x": {"field": "b0", "type": "quantitative", "scale": {"domain": [500, 2500], "range": [80, 262], "nice": false, "zero": false}, "axis": {"orient": "bottom", "offset": -70, "values": [1000, 1500, 2000, 2500], "title": null, "domain": true, "domainColor": "#444", "tickSize": 3, "tickColor": "#444", "labelPadding": 2, "labelFont": "Liberation Sans", "labelFontSize": 12.5}},
            "x2": {"field": "b1"},
            "y": {"field": "li", "type": "quantitative", "scale": {"domain": [0, 108], "range": [126, 16], "nice": false, "zero": false}, "axis": {"orient": "left", "offset": -80, "values": [0, 20, 40, 60, 80, 100], "title": null, "domain": true, "domainColor": "#444", "tickSize": 3, "tickColor": "#444", "labelPadding": 2, "labelFont": "Liberation Sans", "labelFontSize": 12.5}},
            "y2": {"datum": 0}}},
          {"mark": {"type": "bar", "color": "#4a6bb0"}, "encoding": {"x": {"field": "b0", "type": "quantitative"}, "x2": {"field": "b1"}, "y": {"field": "si", "type": "quantitative"}, "y2": {"datum": 0}}},
          {"transform": [{"fold": ["li", "si"]}], "mark": {"type": "bar", "color": "#86817e"}, "encoding": {"x": {"field": "b0", "type": "quantitative"}, "x2": {"field": "b1"}, "y": {"aggregate": "min", "field": "value", "type": "quantitative"}}},
          {"transform": [{"fold": ["li", "si"]}], "mark": {"type": "bar", "fillOpacity": 0, "stroke": "#3a3a3a", "strokeWidth": 0.8}, "encoding": {"x": {"field": "b0", "type": "quantitative"}, "x2": {"field": "b1"}, "y": {"aggregate": "max", "field": "value", "type": "quantitative"}}}
        ]},
        {"data": {"values": [{}]}, "mark": {"type": "point", "opacity": 0}, "encoding": {
          "x": {"datum": 0, "type": "quantitative", "scale": {"domain": [-52, 2540], "nice": false, "zero": false}, "axis": {"orient": "top", "values": [0,100,200,300,400,500,600,700,800,900,1000,1100,1200,1300,1400,1500,1600,1700,1800,1900,2000,2100,2200,2300,2400,2500], "labels": false, "title": null, "tickSize": -3}},
          "y": {"datum": 0, "type": "quantitative", "scale": {"domain": [-40, 2105], "nice": false, "zero": false}, "axis": {"orient": "right", "values": [0,100,200,300,400,500,600,700,800,900,1000,1100,1200,1300,1400,1500,1600,1700,1800,1900,2000], "labels": false, "title": null, "tickSize": -3}}}}
      ]
    },
    {
      "title": {"text": "(f)", "dx": -62},
      "width": 320, "height": 196,
      "data": {"name": "hist"},
      "transform": [{"filter": "datum.p == 'f'"}],
      "resolve": {"scale": {"x": "independent", "y": "independent"}},
      "layer": [
        {"layer": [
          {"mark": {"type": "bar"}, "encoding": {
            "x": {"field": "b0", "type": "quantitative", "scale": {"domain": [-52, 2540], "nice": false, "zero": false}, "axis": {"values": [0, 500, 1000, 1500, 2000, 2500], "title": "Non–affine Squared Displacement (Å²)"}},
            "x2": {"field": "b1"},
            "y": {"field": "li", "type": "quantitative", "stack": null, "scale": {"domain": [-70, 4240], "nice": false, "zero": false}, "axis": {"values": [0, 1000, 2000, 3000, 4000], "title": "N"}},
            "y2": {"datum": 0},
            "color": {"datum": "Li", "scale": {"domain": ["Li", "Si"], "range": ["#f5a52b", "#4a6bb0"]}, "legend": {"legendX": 4, "legendY": 26}}}},
          {"mark": {"type": "bar"}, "encoding": {"x": {"field": "b0", "type": "quantitative"}, "x2": {"field": "b1"}, "y": {"field": "si", "type": "quantitative", "stack": null}, "y2": {"datum": 0}, "color": {"datum": "Si"}}},
          {"transform": [{"fold": ["li", "si"]}], "mark": {"type": "bar", "color": "#86817e"}, "encoding": {"x": {"field": "b0", "type": "quantitative"}, "x2": {"field": "b1"}, "y": {"aggregate": "min", "field": "value", "type": "quantitative"}}},
          {"transform": [{"fold": ["li", "si"]}], "mark": {"type": "bar", "fillOpacity": 0, "stroke": "#3a3a3a", "strokeWidth": 0.8}, "encoding": {"x": {"field": "b0", "type": "quantitative"}, "x2": {"field": "b1"}, "y": {"aggregate": "max", "field": "value", "type": "quantitative"}}},
          {"data": {"values": [{}]}, "mark": {"type": "rect", "fillOpacity": 0, "stroke": "#111", "strokeWidth": 2.2, "strokeDash": [9, 6]}, "encoding": {"x": {"datum": 500}, "x2": {"datum": 2500}, "y": {"datum": -60}, "y2": {"datum": 290}}},
          {"data": {"values": [{}]}, "mark": {"type": "rect", "fillOpacity": 0, "stroke": "#111", "strokeWidth": 2.2, "strokeDash": [9, 6]}, "encoding": {"x": {"datum": 377}, "x2": {"datum": 2402}, "y": {"datum": 787}, "y2": {"datum": 4086}}},
          {"data": {"values": [{}]}, "mark": {"type": "rule", "color": "#111", "strokeWidth": 2, "strokeDash": [5, 3]}, "encoding": {"x": {"datum": 1042}, "y": {"datum": 260}, "x2": {"datum": 1187}, "y2": {"datum": 656}}},
          {"data": {"values": [{}]}, "mark": {"type": "point", "shape": "triangle-up", "filled": true, "color": "#111", "opacity": 1, "size": 40, "angle": 45}, "encoding": {"x": {"datum": 1187}, "y": {"datum": 656}}},
          {"data": {"values": [{}]}, "mark": {"type": "text", "align": "left", "baseline": "middle", "fontSize": 17, "fontWeight": "bold"}, "encoding": {"x": {"datum": 863}, "y": {"datum": 3624}, "text": {"value": "LiSi₂"}}},
          {"data": {"values": [{}]}, "mark": {"type": "text", "align": "left", "baseline": "middle", "font": "DejaVu Sans", "fontSize": 13.5, "fontWeight": "bold"}, "encoding": {"x": {"datum": 863}, "y": {"datum": 3140}, "text": {"value": "Strain Rate =10⁴ s⁻¹"}}}
        ]},
        {"transform": [{"filter": "datum.b0 >= 500"}], "layer": [
          {"mark": {"type": "bar", "color": "#f5a52b"}, "encoding": {
            "x": {"field": "b0", "type": "quantitative", "scale": {"domain": [500, 2500], "range": [87, 280], "nice": false, "zero": false}, "axis": {"orient": "bottom", "offset": -62, "values": [1000, 1500, 2000, 2500], "title": null, "domain": true, "domainColor": "#444", "tickSize": 3, "tickColor": "#444", "labelPadding": 2, "labelFont": "Liberation Sans", "labelFontSize": 12.5}},
            "x2": {"field": "b1"},
            "y": {"field": "li", "type": "quantitative", "scale": {"domain": [0, 160], "range": [134, 14], "nice": false, "zero": false}, "axis": {"orient": "left", "offset": -87, "values": [0, 50, 100, 150], "title": null, "domain": true, "domainColor": "#444", "tickSize": 3, "tickColor": "#444", "labelPadding": 2, "labelFont": "Liberation Sans", "labelFontSize": 12.5}},
            "y2": {"datum": 0}}},
          {"mark": {"type": "bar", "color": "#4a6bb0"}, "encoding": {"x": {"field": "b0", "type": "quantitative"}, "x2": {"field": "b1"}, "y": {"field": "si", "type": "quantitative"}, "y2": {"datum": 0}}},
          {"transform": [{"fold": ["li", "si"]}], "mark": {"type": "bar", "color": "#86817e"}, "encoding": {"x": {"field": "b0", "type": "quantitative"}, "x2": {"field": "b1"}, "y": {"aggregate": "min", "field": "value", "type": "quantitative"}}},
          {"transform": [{"fold": ["li", "si"]}], "mark": {"type": "bar", "fillOpacity": 0, "stroke": "#3a3a3a", "strokeWidth": 0.8}, "encoding": {"x": {"field": "b0", "type": "quantitative"}, "x2": {"field": "b1"}, "y": {"aggregate": "max", "field": "value", "type": "quantitative"}}}
        ]},
        {"data": {"values": [{}]}, "mark": {"type": "point", "opacity": 0}, "encoding": {
          "x": {"datum": 0, "type": "quantitative", "scale": {"domain": [-52, 2540], "nice": false, "zero": false}, "axis": {"orient": "top", "values": [0,100,200,300,400,500,600,700,800,900,1000,1100,1200,1300,1400,1500,1600,1700,1800,1900,2000,2100,2200,2300,2400,2500], "labels": false, "title": null, "tickSize": -3}},
          "y": {"datum": 0, "type": "quantitative", "scale": {"domain": [-70, 4240], "nice": false, "zero": false}, "axis": {"orient": "right", "values": [0,200,400,600,800,1000,1200,1400,1600,1800,2000,2200,2400,2600,2800,3000,3200,3400,3600,3800,4000,4200], "labels": false, "title": null, "tickSize": -3}}}}
      ]
    },
    {
      "title": {"text": "(g)", "dx": -72},
      "width": 320, "height": 196,
      "data": {"name": "hist"},
      "transform": [{"filter": "datum.p == 'g'"}],
      "resolve": {"scale": {"x": "independent", "y": "independent"}},
      "layer": [
        {"layer": [
          {"mark": {"type": "bar"}, "encoding": {
            "x": {"field": "b0", "type": "quantitative", "scale": {"domain": [-52, 2540], "nice": false, "zero": false}, "axis": {"values": [0, 500, 1000, 1500, 2000, 2500], "title": "Non–affine Squared Displacement (Å²)"}},
            "x2": {"field": "b1"},
            "y": {"field": "li", "type": "quantitative", "stack": null, "scale": {"domain": [-70, 3600], "nice": false, "zero": false}, "axis": {"values": [0, 500, 1000, 1500, 2000, 2500, 3000, 3500], "title": "N"}},
            "y2": {"datum": 0},
            "color": {"datum": "Li", "scale": {"domain": ["Li", "Si"], "range": ["#f5a52b", "#4a6bb0"]}, "legend": {"legendX": 277, "legendY": 48}}}},
          {"mark": {"type": "bar"}, "encoding": {"x": {"field": "b0", "type": "quantitative"}, "x2": {"field": "b1"}, "y": {"field": "si", "type": "quantitative", "stack": null}, "y2": {"datum": 0}, "color": {"datum": "Si"}}},
          {"transform": [{"fold": ["li", "si"]}], "mark": {"type": "bar", "color": "#86817e"}, "encoding": {"x": {"field": "b0", "type": "quantitative"}, "x2": {"field": "b1"}, "y": {"aggregate": "min", "field": "value", "type": "quantitative"}}},
          {"transform": [{"fold": ["li", "si"]}], "mark": {"type": "bar", "fillOpacity": 0, "stroke": "#3a3a3a", "strokeWidth": 0.8}, "encoding": {"x": {"field": "b0", "type": "quantitative"}, "x2": {"field": "b1"}, "y": {"aggregate": "max", "field": "value", "type": "quantitative"}}},
          {"data": {"values": [{}]}, "mark": {"type": "rect", "fillOpacity": 0, "stroke": "#111", "strokeWidth": 2.2, "strokeDash": [9, 6]}, "encoding": {"x": {"datum": 500}, "x2": {"datum": 2500}, "y": {"datum": -60}, "y2": {"datum": 400}}},
          {"data": {"values": [{}]}, "mark": {"type": "rect", "fillOpacity": 0, "stroke": "#111", "strokeWidth": 2.2, "strokeDash": [9, 6]}, "encoding": {"x": {"datum": 199}, "x2": {"datum": 2119}, "y": {"datum": 811}, "y2": {"datum": 3469}}},
          {"data": {"values": [{}]}, "mark": {"type": "rule", "color": "#111", "strokeWidth": 2, "strokeDash": [5, 3]}, "encoding": {"x": {"datum": 758}, "y": {"datum": 418}, "x2": {"datum": 904}, "y2": {"datum": 717}}},
          {"data": {"values": [{}]}, "mark": {"type": "point", "shape": "triangle-up", "filled": true, "color": "#111", "opacity": 1, "size": 40, "angle": 48}, "encoding": {"x": {"datum": 904}, "y": {"datum": 717}}},
          {"data": {"values": [{}]}, "mark": {"type": "text", "align": "left", "baseline": "middle", "fontSize": 17, "fontWeight": "bold"}, "encoding": {"x": {"datum": 580}, "y": {"datum": 2945}, "text": {"value": "Li₁₅Si₄"}}},
          {"data": {"values": [{}]}, "mark": {"type": "text", "align": "left", "baseline": "middle", "font": "DejaVu Sans", "fontSize": 13.5, "fontWeight": "bold"}, "encoding": {"x": {"datum": 580}, "y": {"datum": 2496}, "text": {"value": "Strain Rate =10⁸ s⁻¹"}}}
        ]},
        {"transform": [{"filter": "datum.b0 >= 500"}], "layer": [
          {"mark": {"type": "bar", "color": "#f5a52b"}, "encoding": {
            "x": {"field": "b0", "type": "quantitative", "scale": {"domain": [500, 2500], "range": [63, 248], "nice": false, "zero": false}, "axis": {"orient": "bottom", "offset": -66, "values": [1000, 1500, 2000, 2500], "title": null, "domain": true, "domainColor": "#444", "tickSize": 3, "tickColor": "#444", "labelPadding": 2, "labelFont": "Liberation Sans", "labelFontSize": 12.5}},
            "x2": {"field": "b1"},
            "y": {"field": "li", "type": "quantitative", "scale": {"domain": [0, 315], "range": [130, 20], "nice": false, "zero": false}, "axis": {"orient": "left", "offset": -63, "values": [0, 50, 100, 150, 200, 250, 300], "title": null, "domain": true, "domainColor": "#444", "tickSize": 3, "tickColor": "#444", "labelPadding": 2, "labelFont": "Liberation Sans", "labelFontSize": 12.5}},
            "y2": {"datum": 0}}},
          {"mark": {"type": "bar", "color": "#4a6bb0"}, "encoding": {"x": {"field": "b0", "type": "quantitative"}, "x2": {"field": "b1"}, "y": {"field": "si", "type": "quantitative"}, "y2": {"datum": 0}}},
          {"transform": [{"fold": ["li", "si"]}], "mark": {"type": "bar", "color": "#86817e"}, "encoding": {"x": {"field": "b0", "type": "quantitative"}, "x2": {"field": "b1"}, "y": {"aggregate": "min", "field": "value", "type": "quantitative"}}},
          {"transform": [{"fold": ["li", "si"]}], "mark": {"type": "bar", "fillOpacity": 0, "stroke": "#3a3a3a", "strokeWidth": 0.8}, "encoding": {"x": {"field": "b0", "type": "quantitative"}, "x2": {"field": "b1"}, "y": {"aggregate": "max", "field": "value", "type": "quantitative"}}}
        ]},
        {"data": {"values": [{}]}, "mark": {"type": "point", "opacity": 0}, "encoding": {
          "x": {"datum": 0, "type": "quantitative", "scale": {"domain": [-52, 2540], "nice": false, "zero": false}, "axis": {"orient": "top", "values": [0,100,200,300,400,500,600,700,800,900,1000,1100,1200,1300,1400,1500,1600,1700,1800,1900,2000,2100,2200,2300,2400,2500], "labels": false, "title": null, "tickSize": -3}},
          "y": {"datum": 0, "type": "quantitative", "scale": {"domain": [-70, 3600], "nice": false, "zero": false}, "axis": {"orient": "right", "values": [0,100,200,300,400,500,600,700,800,900,1000,1100,1200,1300,1400,1500,1600,1700,1800,1900,2000,2100,2200,2300,2400,2500,2600,2700,2800,2900,3000,3100,3200,3300,3400,3500], "labels": false, "title": null, "tickSize": -3}}}}
      ]
    },
    {
      "title": {"text": "(h)", "dx": -62},
      "width": 320, "height": 196,
      "data": {"name": "hist"},
      "transform": [{"filter": "datum.p == 'h'"}],
      "resolve": {"scale": {"x": "independent", "y": "independent"}},
      "layer": [
        {"layer": [
          {"mark": {"type": "bar"}, "encoding": {
            "x": {"field": "b0", "type": "quantitative", "scale": {"domain": [-52, 2540], "nice": false, "zero": false}, "axis": {"values": [0, 500, 1000, 1500, 2000, 2500], "title": "Non–affine Squared Displacement (Å²)"}},
            "x2": {"field": "b1"},
            "y": {"field": "li", "type": "quantitative", "stack": null, "scale": {"domain": [-40, 2105], "nice": false, "zero": false}, "axis": {"values": [0, 500, 1000, 1500, 2000], "title": "N"}},
            "y2": {"datum": 0},
            "color": {"datum": "Li", "scale": {"domain": ["Li", "Si"], "range": ["#f5a52b", "#4a6bb0"]}, "legend": {"legendX": 276, "legendY": 44}}}},
          {"mark": {"type": "bar"}, "encoding": {"x": {"field": "b0", "type": "quantitative"}, "x2": {"field": "b1"}, "y": {"field": "si", "type": "quantitative", "stack": null}, "y2": {"datum": 0}, "color": {"datum": "Si"}}},
          {"transform": [{"fold": ["li", "si"]}], "mark": {"type": "bar", "color": "#86817e"}, "encoding": {"x": {"field": "b0", "type": "quantitative"}, "x2": {"field": "b1"}, "y": {"aggregate": "min", "field": "value", "type": "quantitative"}}},
          {"transform": [{"fold": ["li", "si"]}], "mark": {"type": "bar", "fillOpacity": 0, "stroke": "#3a3a3a", "strokeWidth": 0.8}, "encoding": {"x": {"field": "b0", "type": "quantitative"}, "x2": {"field": "b1"}, "y": {"aggregate": "max", "field": "value", "type": "quantitative"}}},
          {"data": {"values": [{}]}, "mark": {"type": "rect", "fillOpacity": 0, "stroke": "#111", "strokeWidth": 2.2, "strokeDash": [9, 6]}, "encoding": {"x": {"datum": 500}, "x2": {"datum": 2500}, "y": {"datum": -35}, "y2": {"datum": 250}}},
          {"data": {"values": [{}]}, "mark": {"type": "rect", "fillOpacity": 0, "stroke": "#111", "strokeWidth": 2.2, "strokeDash": [9, 6]}, "encoding": {"x": {"datum": 377}, "x2": {"datum": 2167}, "y": {"datum": 442}, "y2": {"datum": 1974}}},
          {"data": {"values": [{}]}, "mark": {"type": "rule", "color": "#111", "strokeWidth": 2, "strokeDash": [5, 3]}, "encoding": {"x": {"datum": 1366}, "y": {"datum": 223}, "x2": {"datum": 1479}, "y2": {"datum": 387}}},
          {"data": {"values": [{}]}, "mark": {"type": "point", "shape": "triangle-up", "filled": true, "color": "#111", "opacity": 1, "size": 40, "angle": 43}, "encoding": {"x": {"datum": 1479}, "y": {"datum": 387}}},
          {"data": {"values": [{}]}, "mark": {"type": "text", "align": "left", "baseline": "middle", "fontSize": 17, "fontWeight": "bold"}, "encoding": {"x": {"datum": 758}, "y": {"datum": 1635}, "text": {"value": "LiSi"}}},
          {"data": {"values": [{}]}, "mark": {"type": "text", "align": "left", "baseline": "middle", "font": "DejaVu Sans", "fontSize": 13.5, "fontWeight": "bold"}, "encoding": {"x": {"datum": 758}, "y": {"datum": 1339}, "text": {"value": "Strain Rate =10⁸ s⁻¹"}}}
        ]},
        {"transform": [{"filter": "datum.b0 >= 500"}], "layer": [
          {"mark": {"type": "bar", "color": "#f5a52b"}, "encoding": {
            "x": {"field": "b0", "type": "quantitative", "scale": {"domain": [500, 2500], "range": [81, 260], "nice": false, "zero": false}, "axis": {"orient": "bottom", "offset": -71, "values": [1000, 1500, 2000, 2500], "title": null, "domain": true, "domainColor": "#444", "tickSize": 3, "tickColor": "#444", "labelPadding": 2, "labelFont": "Liberation Sans", "labelFontSize": 12.5}},
            "x2": {"field": "b1"},
            "y": {"field": "li", "type": "quantitative", "scale": {"domain": [0, 108], "range": [125, 14], "nice": false, "zero": false}, "axis": {"orient": "left", "offset": -81, "values": [0, 20, 40, 60, 80, 100], "title": null, "domain": true, "domainColor": "#444", "tickSize": 3, "tickColor": "#444", "labelPadding": 2, "labelFont": "Liberation Sans", "labelFontSize": 12.5}},
            "y2": {"datum": 0}}},
          {"mark": {"type": "bar", "color": "#4a6bb0"}, "encoding": {"x": {"field": "b0", "type": "quantitative"}, "x2": {"field": "b1"}, "y": {"field": "si", "type": "quantitative"}, "y2": {"datum": 0}}},
          {"transform": [{"fold": ["li", "si"]}], "mark": {"type": "bar", "color": "#86817e"}, "encoding": {"x": {"field": "b0", "type": "quantitative"}, "x2": {"field": "b1"}, "y": {"aggregate": "min", "field": "value", "type": "quantitative"}}},
          {"transform": [{"fold": ["li", "si"]}], "mark": {"type": "bar", "fillOpacity": 0, "stroke": "#3a3a3a", "strokeWidth": 0.8}, "encoding": {"x": {"field": "b0", "type": "quantitative"}, "x2": {"field": "b1"}, "y": {"aggregate": "max", "field": "value", "type": "quantitative"}}}
        ]},
        {"data": {"values": [{}]}, "mark": {"type": "point", "opacity": 0}, "encoding": {
          "x": {"datum": 0, "type": "quantitative", "scale": {"domain": [-52, 2540], "nice": false, "zero": false}, "axis": {"orient": "top", "values": [0,100,200,300,400,500,600,700,800,900,1000,1100,1200,1300,1400,1500,1600,1700,1800,1900,2000,2100,2200,2300,2400,2500], "labels": false, "title": null, "tickSize": -3}},
          "y": {"datum": 0, "type": "quantitative", "scale": {"domain": [-40, 2105], "nice": false, "zero": false}, "axis": {"orient": "right", "values": [0,100,200,300,400,500,600,700,800,900,1000,1100,1200,1300,1400,1500,1600,1700,1800,1900,2000], "labels": false, "title": null, "tickSize": -3}}}}
      ]
    },
    {
      "title": {"text": "(i)", "dx": -62},
      "width": 320, "height": 196,
      "data": {"name": "hist"},
      "transform": [{"filter": "datum.p == 'i'"}],
      "resolve": {"scale": {"x": "independent", "y": "independent"}},
      "layer": [
        {"layer": [
          {"mark": {"type": "bar"}, "encoding": {
            "x": {"field": "b0", "type": "quantitative", "scale": {"domain": [-52, 2540], "nice": false, "zero": false}, "axis": {"values": [0, 500, 1000, 1500, 2000, 2500], "title": "Non–affine Squared Displacement (Å²)"}},
            "x2": {"field": "b1"},
            "y": {"field": "li", "type": "quantitative", "stack": null, "scale": {"domain": [-70, 4240], "nice": false, "zero": false}, "axis": {"values": [0, 1000, 2000, 3000, 4000], "title": "N"}},
            "y2": {"datum": 0},
            "color": {"datum": "Li", "scale": {"domain": ["Li", "Si"], "range": ["#f5a52b", "#4a6bb0"]}, "legend": {"legendX": 277, "legendY": 46}}}},
          {"mark": {"type": "bar"}, "encoding": {"x": {"field": "b0", "type": "quantitative"}, "x2": {"field": "b1"}, "y": {"field": "si", "type": "quantitative", "stack": null}, "y2": {"datum": 0}, "color": {"datum": "Si"}}},
          {"transform": [{"fold": ["li", "si"]}], "mark": {"type": "bar", "color": "#86817e"}, "encoding": {"x": {"field": "b0", "type": "quantitative"}, "x2": {"field": "b1"}, "y": {"aggregate": "min", "field": "value", "type": "quantitative"}}},
          {"transform": [{"fold": ["li", "si"]}], "mark": {"type": "bar", "fillOpacity": 0, "stroke": "#3a3a3a", "strokeWidth": 0.8}, "encoding": {"x": {"field": "b0", "type": "quantitative"}, "x2": {"field": "b1"}, "y": {"aggregate": "max", "field": "value", "type": "quantitative"}}},
          {"data": {"values": [{}]}, "mark": {"type": "rect", "fillOpacity": 0, "stroke": "#111", "strokeWidth": 2.2, "strokeDash": [9, 6]}, "encoding": {"x": {"datum": 500}, "x2": {"datum": 2500}, "y": {"datum": -60}, "y2": {"datum": 400}}},
          {"data": {"values": [{}]}, "mark": {"type": "rect", "fillOpacity": 0, "stroke": "#111", "strokeWidth": 2.2, "strokeDash": [9, 6]}, "encoding": {"x": {"datum": 191}, "x2": {"datum": 2038}, "y": {"datum": 854}, "y2": {"datum": 4086}}},
          {"data": {"values": [{}]}, "mark": {"type": "rule", "color": "#111", "strokeWidth": 2, "strokeDash": [5, 3]}, "encoding": {"x": {"datum": 1131}, "y": {"datum": 392}, "x2": {"datum": 1244}, "y2": {"datum": 744}}},
          {"data": {"values": [{}]}, "mark": {"type": "point", "shape": "triangle-up", "filled": true, "color": "#111", "opacity": 1, "size": 40, "angle": 41}, "encoding": {"x": {"datum": 1244}, "y": {"datum": 744}}},
          {"data": {"values": [{}]}, "mark": {"type": "text", "align": "left", "baseline": "middle", "fontSize": 17, "fontWeight": "bold"}, "encoding": {"x": {"datum": 580}, "y": {"datum": 3316}, "text": {"value": "LiSi₂"}}},
          {"data": {"values": [{}]}, "mark": {"type": "text", "align": "left", "baseline": "middle", "font": "DejaVu Sans", "fontSize": 13.5, "fontWeight": "bold"}, "encoding": {"x": {"datum": 580}, "y": {"datum": 2723}, "text": {"value": "Strain Rate =10⁸ s⁻¹"}}}
        ]},
        {"transform": [{"filter": "datum.b0 >= 500"}], "layer": [
          {"mark": {"type": "bar", "color": "#f5a52b"}, "encoding": {
            "x": {"field": "b0", "type": "quantitative", "scale": {"domain": [500, 2500], "range": [58, 241], "nice": false, "zero": false}, "axis": {"orient": "bottom", "offset": -69, "values": [1000, 1500, 2000, 2500], "title": null, "domain": true, "domainColor": "#444", "tickSize": 3, "tickColor": "#444", "labelPadding": 2, "labelFont": "Liberation Sans", "labelFontSize": 12.5}},
            "x2": {"field": "b1"},
            "y": {"field": "li", "type": "quantitative", "scale": {"domain": [0, 160], "range": [127, 13], "nice": false, "zero": false}, "axis": {"orient": "left", "offset": -58, "values": [0, 50, 100, 150], "title": null, "domain": true, "domainColor": "#444", "tickSize": 3, "tickColor": "#444", "labelPadding": 2, "labelFont": "Liberation Sans", "labelFontSize": 12.5}},
            "y2": {"datum": 0}}},
          {"mark": {"type": "bar", "color": "#4a6bb0"}, "encoding": {"x": {"field": "b0", "type": "quantitative"}, "x2": {"field": "b1"}, "y": {"field": "si", "type": "quantitative"}, "y2": {"datum": 0}}},
          {"transform": [{"fold": ["li", "si"]}], "mark": {"type": "bar", "color": "#86817e"}, "encoding": {"x": {"field": "b0", "type": "quantitative"}, "x2": {"field": "b1"}, "y": {"aggregate": "min", "field": "value", "type": "quantitative"}}},
          {"transform": [{"fold": ["li", "si"]}], "mark": {"type": "bar", "fillOpacity": 0, "stroke": "#3a3a3a", "strokeWidth": 0.8}, "encoding": {"x": {"field": "b0", "type": "quantitative"}, "x2": {"field": "b1"}, "y": {"aggregate": "max", "field": "value", "type": "quantitative"}}}
        ]},
        {"data": {"values": [{}]}, "mark": {"type": "point", "opacity": 0}, "encoding": {
          "x": {"datum": 0, "type": "quantitative", "scale": {"domain": [-52, 2540], "nice": false, "zero": false}, "axis": {"orient": "top", "values": [0,100,200,300,400,500,600,700,800,900,1000,1100,1200,1300,1400,1500,1600,1700,1800,1900,2000,2100,2200,2300,2400,2500], "labels": false, "title": null, "tickSize": -3}},
          "y": {"datum": 0, "type": "quantitative", "scale": {"domain": [-70, 4240], "nice": false, "zero": false}, "axis": {"orient": "right", "values": [0,200,400,600,800,1000,1200,1400,1600,1800,2000,2200,2400,2600,2800,3000,3200,3400,3600,3800,4000,4200], "labels": false, "title": null, "tickSize": -3}}}}
      ]
    }
  ],
  "config": {
    "font": "Liberation Sans",
    "view": {"stroke": "#8c8c8c", "strokeWidth": 1},
    "text": {"font": "Liberation Sans", "color": "#111"},
    "axis": {"format": "d", "labelFont": "DejaVu Sans", "labelFontWeight": "bold", "labelColor": "#151515", "titleFont": "DejaVu Sans", "titleFontWeight": "bold", "titleColor": "#151515", "grid": false, "labelFlush": false, "labelOverlap": false, "tickColor": "#777"},
    "axisX": {"domain": false, "tickSize": -5, "labelPadding": 9, "labelFontSize": 14, "titleFontSize": 14, "titlePadding": 3},
    "axisY": {"domain": false, "tickSize": -5, "labelPadding": 9, "labelFontSize": 14, "titleFontSize": 14, "titlePadding": 12},
    "legend": {"orient": "none", "title": null, "symbolType": "square", "symbolSize": 150, "symbolOpacity": 0.55, "symbolStrokeColor": "#8a7d6a", "symbolStrokeWidth": 1, "labelFont": "Liberation Sans", "labelFontWeight": "bold", "labelFontSize": 15, "labelColor": "#151515", "labelOffset": 8, "rowPadding": 5, "padding": 0},
    "title": {"font": "Liberation Serif", "fontStyle": "italic", "fontWeight": "normal", "fontSize": 21, "color": "#222", "orient": "bottom", "anchor": "start", "frame": "group", "offset": -16}
  }
}
